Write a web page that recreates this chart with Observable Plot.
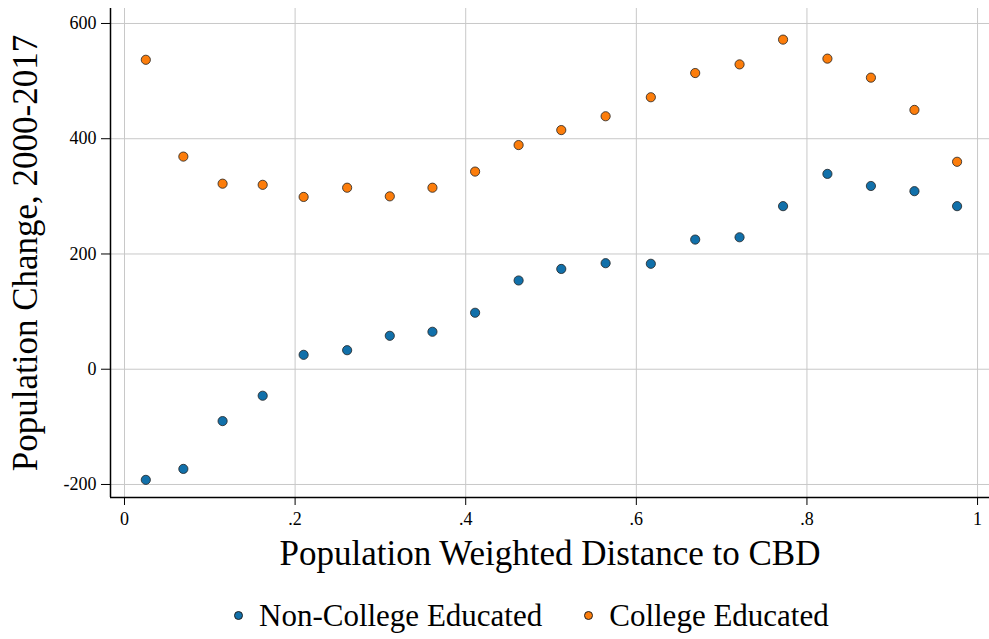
<!DOCTYPE html>
<html>
<head>
<meta charset="utf-8">
<script src="https://cdn.jsdelivr.net/npm/d3@7"></script>
<script src="https://cdn.jsdelivr.net/npm/@observablehq/plot@0.6"></script>
<style>
  html, body { margin: 0; padding: 0; background: #fff; }
  #chart { width: 989px; font-family: "Liberation Serif", "Times New Roman", serif; }
  #chart svg { display: block; }
  #chart svg text { font-family: "Liberation Serif", "Times New Roman", serif; }
  g[aria-label="x-axis label"] text, g[aria-label="y-axis label"] text { font-size: 35px; }
  .legend { display: flex; justify-content: flex-start; align-items: flex-start; box-sizing: border-box; height: 59px; padding-top: 18px; padding-left: 234px; font-size: 31px; line-height: 36px; color: #000; }
  .item { display: flex; align-items: center; }
  .item + .item { margin-left: 42px; }
  .sw { width: 7px; height: 7px; border-radius: 50%; border: 0.8px solid #222; margin-right: 16px; position: relative; top: -1px; }
</style>
</head>
<body>
<div id="chart"></div>
<script>
const distance = [0.025, 0.069, 0.115, 0.162, 0.21, 0.261, 0.311, 0.361, 0.411, 0.462, 0.512, 0.564, 0.617, 0.669, 0.721, 0.772, 0.824, 0.875, 0.926, 0.976];
const nonCollege = [-192, -173, -90, -46, 25, 33, 58, 65, 98, 154, 174, 184, 183, 225, 229, 283, 339, 318, 309, 283];
const college = [537, 369, 322, 320, 299, 315, 300, 315, 343, 389, 415, 439, 472, 514, 529, 572, 539, 506, 450, 360];
const seriesNames = ["Non-College Educated", "College Educated"];
const seriesColors = ["#1170aa", "#fc7d0b"];
const xTicks = [0, 0.2, 0.4, 0.6, 0.8, 1];
const yTicks = [-200, 0, 200, 400, 600];

const rows = [];
distance.forEach((d, i) => {
  rows.push({x: d, y: nonCollege[i], s: seriesNames[0]});
  rows.push({x: d, y: college[i], s: seriesNames[1]});
});

const fmtX = d => d === 0 ? "0" : d === 1 ? "1" : String(d).replace(/^0/, "");
const fmtY = d => String(d);

const plot = Plot.plot({
  width: 989,
  height: 580,
  marginLeft: 110,
  marginRight: 0,
  marginTop: 8,
  marginBottom: 83,
  style: {fontFamily: "'Liberation Serif', 'Times New Roman', serif", background: "#fff", color: "#000"},
  x: {domain: [-0.0164, 1.014]},
  y: {domain: [-222.6, 626]},
  color: {domain: seriesNames, range: seriesColors},
  marks: [
    Plot.gridX(xTicks, {stroke: "#c8c8c8", strokeOpacity: 1, strokeWidth: 1}),
    Plot.gridY(yTicks, {stroke: "#c8c8c8", strokeOpacity: 1, strokeWidth: 1}),
    Plot.axisX({ticks: xTicks, tickFormat: fmtX, tickSize: 8, tickPadding: 7, fontSize: 18, label: "Population Weighted Distance to CBD", labelAnchor: "center", labelArrow: "none", labelOffset: 67, stroke: "#000"}),
    Plot.axisY({ticks: yTicks, tickFormat: fmtY, tickSize: 9, tickPadding: 5, fontSize: 18, label: "Population Change, 2000-2017", labelAnchor: "center", labelArrow: "none", labelOffset: 98, stroke: "#000"}),
    Plot.ruleX([-0.0164], {stroke: "#000", strokeWidth: 1.5}),
    Plot.ruleY([-222.6], {stroke: "#000", strokeWidth: 1.5}),
    Plot.dot(rows, {x: "x", y: "y", fill: "s", r: 4.6, stroke: "#222", strokeWidth: 0.8})
  ]
});
document.getElementById("chart").appendChild(plot);

const legend = document.createElement("div");
legend.className = "legend";
seriesNames.forEach((name, i) => {
  const item = document.createElement("div");
  item.className = "item";
  const sw = document.createElement("span");
  sw.className = "sw";
  sw.style.background = seriesColors[i];
  const t = document.createElement("span");
  t.textContent = name;
  item.appendChild(sw);
  item.appendChild(t);
  legend.appendChild(item);
});
document.getElementById("chart").appendChild(legend);
</script>
</body>
</html>
